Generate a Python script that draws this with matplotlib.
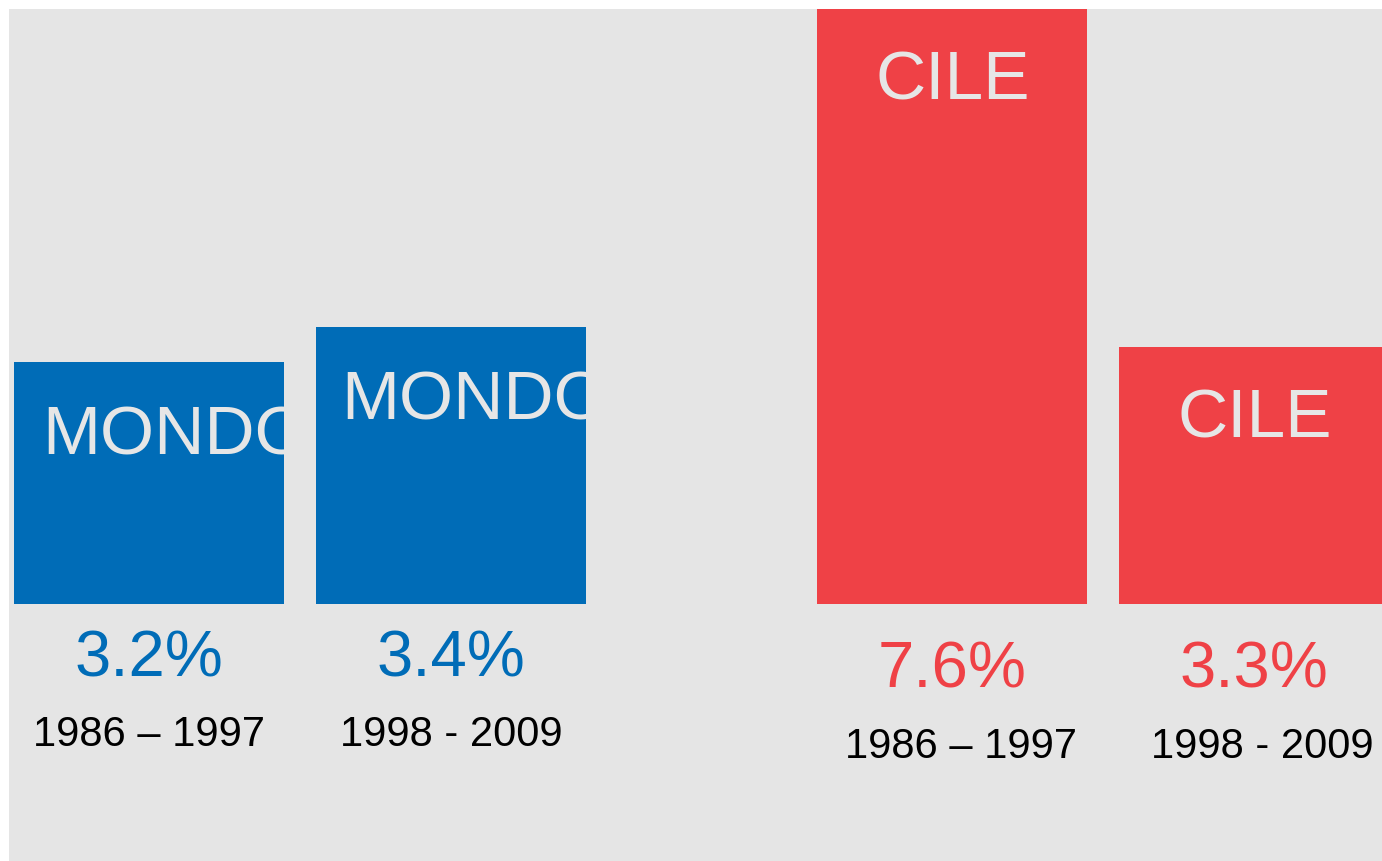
import matplotlib
matplotlib.use("Agg")
import matplotlib.pyplot as plt

# data
groups = ["MONDO", "MONDO", "CILE", "CILE"]
periods = ["1986 \u2013 1997", "1998 - 2009", "1986 \u2013 1997", "1998 - 2009"]
growth = ["3.2%", "3.4%", "7.6%", "3.3%"]
bar_heights = [3.09, 3.54, 7.7, 3.29]   # as drawn (not exactly proportional)
x_pos = [0, 1, 2.66, 3.66]

blue = "#006cb7"
red = "#ef4146"
colors = [blue, blue, red, red]
grey = "#e5e5e5"

plt.rcParams["font.family"] = ["Liberation Sans", "DejaVu Sans"]

fig = plt.figure(figsize=(13.82, 8.61), dpi=100, facecolor="white")
W, H = 1382, 861
ax = fig.add_axes([9 / W, 0, 1 - 9 / W, 1 - 9 / H])
ax.set_facecolor(grey)
for s in ax.spines.values():
    s.set_visible(False)
ax.set_xticks([])
ax.set_yticks([])

px_x = 302.0  # pixels per x unit
px_y = 78.0   # pixels per y unit
ax.set_xlim((9 - 149) / px_x, (1382 - 149) / px_x)
ax.set_ylim(-(861 - 603.5) / px_y, (603.5 - 9) / px_y)
ytop = (603.5 - 9) / px_y

rects = ax.bar(x_pos, bar_heights, width=270 / px_x, color=colors, zorder=2)

# labels inside bars (the MONDO ones are cut off by the bar edge)
mondo_dx = [20, 18]
for i, rect in enumerate(rects):
    top = min(rect.get_height(), ytop)
    if groups[i] == "MONDO":
        t = ax.annotate(groups[i], (rect.get_x(), top), xytext=(mondo_dx[i], -66),
                        textcoords="offset points", ha="left", va="baseline",
                        fontsize=50, color="#e6e6e6", zorder=3)
    else:
        t = ax.annotate(groups[i], (x_pos[i], top), xytext=(0, -65),
                        textcoords="offset points", ha="center", va="baseline",
                        fontsize=50, color="#e6e6e6", zorder=3)
    t.set_clip_path(rect)

# growth and period labels under the bars
for i in range(len(x_pos)):
    dy1, dy2 = (-40, -95) if i < 2 else (-48, -103)
    dx2 = 0 if i < 2 else 6
    ax.annotate(growth[i], (x_pos[i], 0), xytext=(0, dy1), textcoords="offset points",
                ha="center", va="center", fontsize=47, color=colors[i])
    ax.annotate(periods[i], (x_pos[i], 0), xytext=(dx2, dy2), textcoords="offset points",
                ha="center", va="center", fontsize=30, color="black")

plt.savefig("out.png", dpi=100, facecolor="white")
